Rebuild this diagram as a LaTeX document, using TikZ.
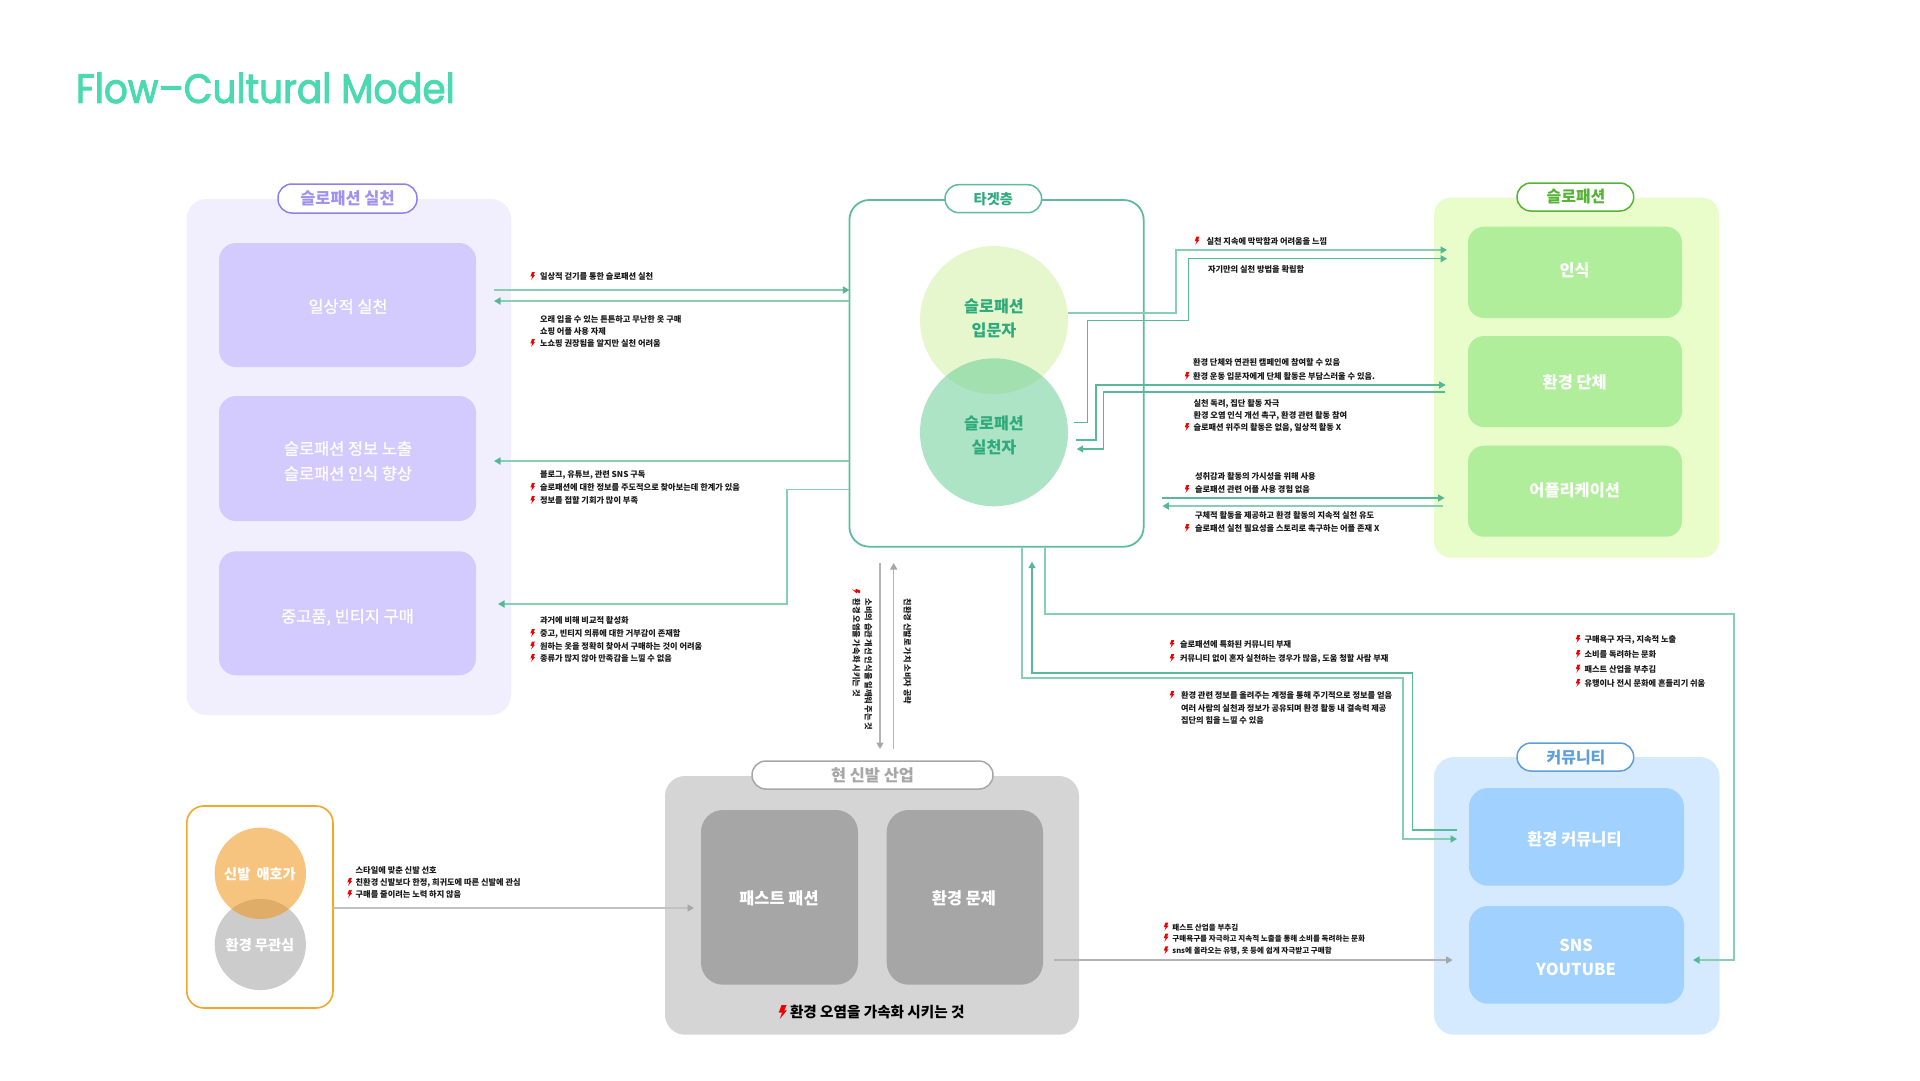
\documentclass[tikz,border=0pt]{standalone}
\usepackage{fontspec}
\setmainfont{Noto Sans CJK KR}
\newfontfamily\krmed[FakeBold=1.3]{Noto Sans CJK KR}
\newfontfamily\titlefont[FakeBold=2.2,FakeStretch=0.91]{Poppins}
\usetikzlibrary{arrows.meta}
\definecolor{titleg}{HTML}{4AD9B0}
\definecolor{purpA}{HTML}{F1EEFE}
\definecolor{purpB}{HTML}{D3CAFE}
\definecolor{purpC}{HTML}{8F80EE}
\definecolor{limeA}{HTML}{E8FDC9}
\definecolor{limeB}{HTML}{B1EE9B}
\definecolor{limeC}{HTML}{55B436}
\definecolor{bluA}{HTML}{D5EAFF}
\definecolor{bluB}{HTML}{A0D1FF}
\definecolor{bluC}{HTML}{5F9FD9}
\definecolor{gryA}{HTML}{D5D5D5}
\definecolor{gryB}{HTML}{A7A6A6}
\definecolor{gryC}{HTML}{A8A7A7}
\definecolor{tgt}{HTML}{5EBB9C}
\definecolor{tgttxt}{HTML}{2FAA7C}
\definecolor{lineL}{HTML}{86CFB2}
\definecolor{lineD}{HTML}{58B998}
\definecolor{headg}{HTML}{55B893}
\definecolor{orng}{HTML}{F5A62B}
\definecolor{boltred}{HTML}{F00000}
\tikzset{
  base/.style={inner sep=0pt,outer sep=0pt,align=center},
  pnl/.style={base,rounded corners=20pt},
  pill/.style={base,fill=white,line width=1.5pt,rounded corners=13.9pt},
  boxtxt/.style={base,text=white,font=\fontsize{16.4}{25}\selectfont\bfseries},
  ptxt/.style={base,text=white!96!purpB,font=\krmed\fontsize{16.4}{25}\selectfont},
  pbox/.style={pnl,fill=purpB,rounded corners=17pt},
  lbox/.style={pnl,rounded corners=16pt,fill=limeB},
  bbox/.style={pnl,fill=bluB,rounded corners=19pt},
  gbox/.style={pnl,fill=gryB,rounded corners=22pt},
  lbl/.style={inner sep=0pt,outer sep=0pt,anchor=west,text=black!90,yshift=-.5pt,font=\fontsize{8.2}{9}\selectfont\bfseries},
  lbe/.style={lbl,font=\fontsize{7.55}{9}\selectfont\bfseries},
  tip/.style={-{Triangle[length=6.5pt,width=7pt,color=#1]}},
  cL/.style={line width=1.7pt,draw=lineL,tip=headg},
  cD/.style={line width=1.3pt,draw=lineD,tip=headg},
  cG/.style={line width=1.4pt,draw=gryC!85,tip=gryC},
  pics/bolt/.style={code={\fill[boltred] (-0.6,-4)--(2.3,-4)--(1.0,-1.0)--(2.5,-1.0)--(-1.6,4)--(-0.3,0.3)--(-2.2,0.3)--cycle;}},
}
\newcommand{\pane}[7]{\node[#2,minimum width={(#5-#3)*1pt},minimum height={(#6-#4)*1pt}] (#1) at ({(#3+#5)/2},{(#4+#6)/2}) {#7};}
\newcommand{\lab}[4]{\node[lbl] (#1) at (#2,#3) {#4};}
\newcommand{\labe}[4]{\node[lbe] (#1) at (#2,#3) {#4};}
\newcommand{\blt}[2]{\pic at (#1,#2) {bolt};}
\begin{document}
\begin{tikzpicture}[x=1pt,y=-1pt]
\useasboundingbox (0,0) rectangle (1920,1080);
\node[base,anchor=west,text=titleg,font=\titlefont\fontsize{41}{48}\selectfont] (title) at (76,88) {Flow–Cultural Model};

% left panel
\pane{lp}{pnl,fill=purpA}{186.5}{199}{511}{715}{}
\pane{lpill}{pill,draw=purpC,text=purpC!85,font=\fontsize{16.4}{20}\selectfont\bfseries}{278}{184}{417}{213}{슬로패션 실천}
\pane{l1}{pbox}{219}{243}{476}{367}{}
\pane{l2}{pbox}{219}{396}{476}{521}{}
\pane{l3}{pbox}{219}{551.3}{476}{675.3}{}
\node[ptxt] (l1t) at (348,306.5) {일상적 실천};
\node[ptxt] (l2t) at (348,461) {슬로패션 정보 노출\\슬로패션 인식 향상};
\node[ptxt] (l3t) at (347.5,617.2) {중고품, 빈티지 구매};

% target panel
\pane{target}{pnl,draw=tgt,line width=1.8pt,fill=white}{849.4}{200}{1143.7}{546.7}{}
\pane{tpill}{pill,draw=tgt,text=tgttxt,font=\fontsize{14.2}{18}\selectfont\bfseries}{945}{184.7}{1041.6}{212.7}{타겟층}
\node[base,circle,minimum size=148pt,fill={rgb,255:red,230;green,247;blue,205}] (c1) at (994,320) {};
\node[base,circle,minimum size=148pt,fill={rgb,255:red,110;green,207;blue,152},fill opacity=.56] (c2) at (994,432.3) {};
\node[base,text=tgttxt,font=\fontsize{16.2}{24.3}\selectfont\bfseries] (c1t) at (994,318.5) {슬로패션\\입문자};
\node[base,text=tgttxt,font=\fontsize{16.2}{24.3}\selectfont\bfseries] (c2t) at (994,435.5) {슬로패션\\실천자};

% lime panel
\pane{rp}{pnl,fill=limeA,rounded corners=17pt}{1434}{197.7}{1719}{557.7}{}
\pane{rpill}{pill,draw=limeC,text=limeC,font=\fontsize{16}{20}\selectfont\bfseries}{1517}{183}{1633.7}{211}{}
\node[base,text=limeC,font=\fontsize{16}{20}\selectfont\bfseries] (rpt) at (1576,197) {슬로패션};
\pane{r1}{lbox}{1468}{226.7}{1682}{318}{}
\pane{r2}{lbox}{1468}{336}{1682}{427}{}
\pane{r3}{lbox}{1468}{445.7}{1682}{536.7}{}
\node[boxtxt] (r1t) at (1574.7,270.5) {인식};
\node[boxtxt] (r2t) at (1574.7,382) {환경 단체};
\node[boxtxt] (r3t) at (1574.7,490.5) {어플리케이션};

% blue panel
\pane{bp}{pnl,fill=bluA}{1434}{757}{1719.7}{1034.7}{}
\pane{bpill}{pill,draw=bluC}{1517}{743}{1633.7}{771}{}
\node[base,text=bluC,font=\fontsize{16}{20}\selectfont\bfseries] (bpt) at (1576,757) {커뮤니티};
\pane{b1}{bbox}{1469}{788}{1684}{885.7}{}
\pane{b2}{bbox}{1469}{906}{1684}{1003.7}{}
\node[boxtxt] (b1t) at (1574.5,839.5) {환경 커뮤니티};
\node[boxtxt,font=\fontsize{16.4}{24}\selectfont\bfseries] (b2t) at (1576,957.5) {SNS\\YOUTUBE};

% grey panel
\pane{gp}{pnl,fill=gryA}{665}{776}{1079}{1034.7}{}
\pane{gpill}{pill,draw=gryC,text=gryC,font=\fontsize{16.4}{20}\selectfont\bfseries}{752}{761}{993}{789}{현 신발 산업}
\pane{g1}{gbox}{701}{810}{858}{984.7}{}
\pane{g2}{gbox}{886.7}{810}{1043}{984.7}{}
\node[boxtxt] (g1t) at (779,898.2) {패스트 패션};
\node[boxtxt] (g2t) at (964,898.5) {환경 문제};
\node[base,anchor=west,text=black,font=\fontsize{14.6}{18}\selectfont\bfseries] (gnote) at (790,1012) {환경 오염을 가속화 시키는 것};
\pic[scale=1.75] at (782.6,1012) {bolt};

% orange panel
\pane{op}{pnl,rounded corners=17pt,draw=orng,line width=1.6pt,fill=white}{186.8}{806}{333}{1008}{}
\node[base,circle,minimum size=91.2pt,fill={rgb,255:red,204;green,204;blue,204}] (o2) at (260.3,944.5) {};
\node[base,circle,minimum size=91.4pt,fill={rgb,255:red,240;green,149;blue,22},fill opacity=.55] (o1) at (260.3,873.3) {};
\node[base,text=white,font=\fontsize{14.2}{18}\selectfont\bfseries] (o2t) at (260,945.5) {환경 무관심};
\node[base,text=white,font=\fontsize{14.2}{18}\selectfont\bfseries] (o1t) at (260,874.5) {신발\hspace{.44em}애호가};

% connectors: named ends
\coordinate (l1a) at (494,290);
\coordinate (l1b) at (494,301);
\coordinate (l2) at (494,461);
\coordinate (l3o) at (849.4,489.5);
\coordinate (l3b) at (787,604);
\coordinate (l3e) at (498,604);
\draw[cL] (l1a) -- (target.west |- l1a);
\draw[cL] (target.west |- l1b) -- (l1b);
\draw[cL] (target.west |- l2) -- (l2);
\draw[cL] (target.west |- l3o) -| (l3b) -- (l3e);

\coordinate (Ao) at (1067.8,313);
\coordinate (Ab) at (1176,250);
\coordinate (Ae) at (1447,250);
\draw[cL] (Ao) -| (Ab) -- (Ae);
\coordinate (Bo) at (1074,422.7);
\coordinate (Bb) at (1087.8,320.7);
\coordinate (Bc) at (1188.6,258.7);
\coordinate (Be) at (1447,258.7);
\draw[cD] (Bo) -| (Bb) -| (Bc) -- (Be);
\coordinate (Co) at (1076,440);
\coordinate (Cb) at (1096,385);
\coordinate (Ce) at (1445.7,385);
\draw[cD] (Co) -| (Cb) -- (Ce);
\coordinate (Do) at (1445,392);
\coordinate (Db) at (1103.7,449);
\coordinate (De) at (1076.7,449);
\draw[cD] (Do) -| (Db) -- (De);
\coordinate (Eo) at (1162.4,498);
\coordinate (Ee) at (1444.5,498);
\draw[cD] (Eo) -- (Ee);
\coordinate (Fo) at (1443,506);
\coordinate (Fe) at (1162.4,506);
\draw[cL] (Fo) -- (Fe);

\coordinate (Gs) at (1021.8,546.7);
\coordinate (Gb) at (1403,678);
\coordinate (Ge) at (1457,839);
\draw[cL] (target.south -| Gs) |- (Gb) |- (Ge);
\coordinate (Ho) at (1457,830);
\coordinate (Hb) at (1412.5,673);
\coordinate (He) at (1032,561.7);
\draw[cD] (Ho) -| (Hb) -| (He);
\coordinate (Is) at (1045,546.7);
\coordinate (Ib) at (1734,613.7);
\coordinate (Ie) at (1693,960);
\draw[cL] (target.south -| Is) |- (Ib) |- (Ie);

\coordinate (Ju) at (880,563);
\coordinate (Jd) at (880,749);
\draw[cG] (Ju) -- (Jd);
\coordinate (Ku) at (893.7,563);
\coordinate (Kd) at (893.7,749);
\draw[cG] (Kd) -- (Ku);
\coordinate (Os) at (694,908);
\draw[cG,draw=gryC!70] (op.east |- Os) -- (Os);
\coordinate (Ss) at (1054,960);
\coordinate (Se) at (1452.7,960);
\draw[cG] (Ss) -- (Se);

% labels
\blt{532.6}{276}\lab{a1}{540}{276}{일상적 걷기를 통한 슬로패션 실천}
\lab{a2}{540}{319}{오래 입을 수 있는 튼튼하고 무난한 옷 구매}
\lab{a3}{540}{331}{쇼핑 어플 사용 자제}
\blt{532.6}{343}\lab{a4}{540}{343}{노쇼핑 권장됨을 알지만 실천 어려움}
\lab{a5}{540}{474}{블로그, 유튜브, 관련 SNS 구독}
\blt{532.6}{487}\lab{a6}{540}{487}{슬로패션에 대한 정보를 주도적으로 찾아보는데 한계가 있음}
\blt{532.6}{500}\lab{a7}{540}{500}{정보를 접할 기회가 많이 부족}
\lab{a8}{540}{620}{과거에 비해 비교적 활성화}
\blt{532.6}{633}\lab{a9}{540}{633}{중고, 빈티지 의류에 대한 거부감이 존재함}
\blt{532.6}{645.5}\lab{a10}{540}{645.5}{원하는 옷을 정확히 찾아서 구매하는 것이 어려움}
\blt{532.6}{658}\lab{a11}{540}{658}{종류가 많지 않아 만족감을 느낄 수 없음}

\blt{1197}{240.7}\lab{b3}{1206.5}{240.7}{실천 지속에 막막함과 어려움을 느낌}
\lab{b4}{1208}{269}{자기만의 실천 방법을 확립함}
\lab{b5}{1193}{362}{환경 단체와 연관된 캠페인에 참여할 수 있음}
\blt{1187}{376}\lab{b6}{1193}{376}{환경 운동 입문자에게 단체 활동은 부담스러울 수 있음.}
\lab{b7}{1193.5}{403}{실천 독려, 집단 활동 자극}
\lab{b8}{1193.5}{415}{환경 오염 인식 개선 촉구, 환경 관련 활동 참여}
\blt{1187}{427}\lab{b9}{1193.5}{427}{슬로패션 위주의 활동은 없음, 일상적 활동 X}
\lab{b10}{1195}{476}{성취감과 활동의 가시성을 위해 사용}
\blt{1187}{489}\lab{b11}{1195}{489}{슬로패션 관련 어플 사용 경험 없음}
\lab{b12}{1195}{515}{구체적 활동을 제공하고 환경 활동의 지속적 실천 유도}
\blt{1187}{528}\lab{b13}{1195}{528}{슬로패션 실천 필요성을 스토리로 촉구하는 어플 존재 X}

\blt{1172}{644}\lab{c1x}{1180}{644}{슬로패션에 특화된 커뮤니티 부재}
\blt{1172}{658}\lab{c2x}{1180}{658}{커뮤니티 없이 혼자 실천하는 경우가 많음, 도움 청할 사람 부재}
\blt{1172}{695}\lab{c3x}{1181}{695}{환경 관련 정보를 올려주는 계정을 통해 주기적으로 정보를 얻음}
\lab{c4x}{1181}{707.7}{여러 사람의 실천과 정보가 공유되며 환경 활동 내 결속력 제공}
\lab{c5x}{1181}{720}{집단의 힘을 느낄 수 있음}

\blt{1578}{639}\lab{d1}{1584.6}{639}{구매욕구 자극, 지속적 노출}
\blt{1578}{654}\lab{d2}{1584.6}{654}{소비를 독려하는 문화}
\blt{1578}{668.7}\lab{d3}{1584.6}{668.7}{패스트 산업을 부추김}
\blt{1578}{683}\lab{d4}{1584.6}{683}{유행이나 전시 문화에 흔들리기 쉬움}

\blt{1166}{926.7}\labe{e1}{1172.4}{926.7}{패스트 산업을 부추김}
\blt{1166}{937.7}\labe{e2}{1172.4}{937.7}{구매욕구를 자극하고 지속적 노출을 통해 소비를 독려하는 문화}
\blt{1166}{950.3}\labe{e3}{1172.4}{950.3}{sns에 올라오는 유행, 옷 등에 쉽게 자극받고 구매함}

\lab{f1}{355.7}{870}{스타일에 맞춘 신발 선호}
\blt{349.6}{882}\lab{f2}{355.7}{882}{친환경 신발보다 한정, 희귀도에 따른 신발에 관심}
\blt{349.6}{894}\lab{f3}{355.7}{894}{구매를 줄이려는 노력 하지 않음}

\node[lbl,rotate=-90,yshift=.5pt] (v1) at (868,598) {소비의 습관 개선 인식을 일깨워 주는 것};
\node[lbl,rotate=-90,yshift=.5pt] (v2) at (856,598) {환경 오염을 가속화 시키는 것};
\node[lbl,rotate=-90,yshift=.5pt] (v3) at (907,598) {친환경 신발로 가치 소비자 공략};
\pic[rotate=-90] at (856,591) {bolt};
\end{tikzpicture}
\end{document}
